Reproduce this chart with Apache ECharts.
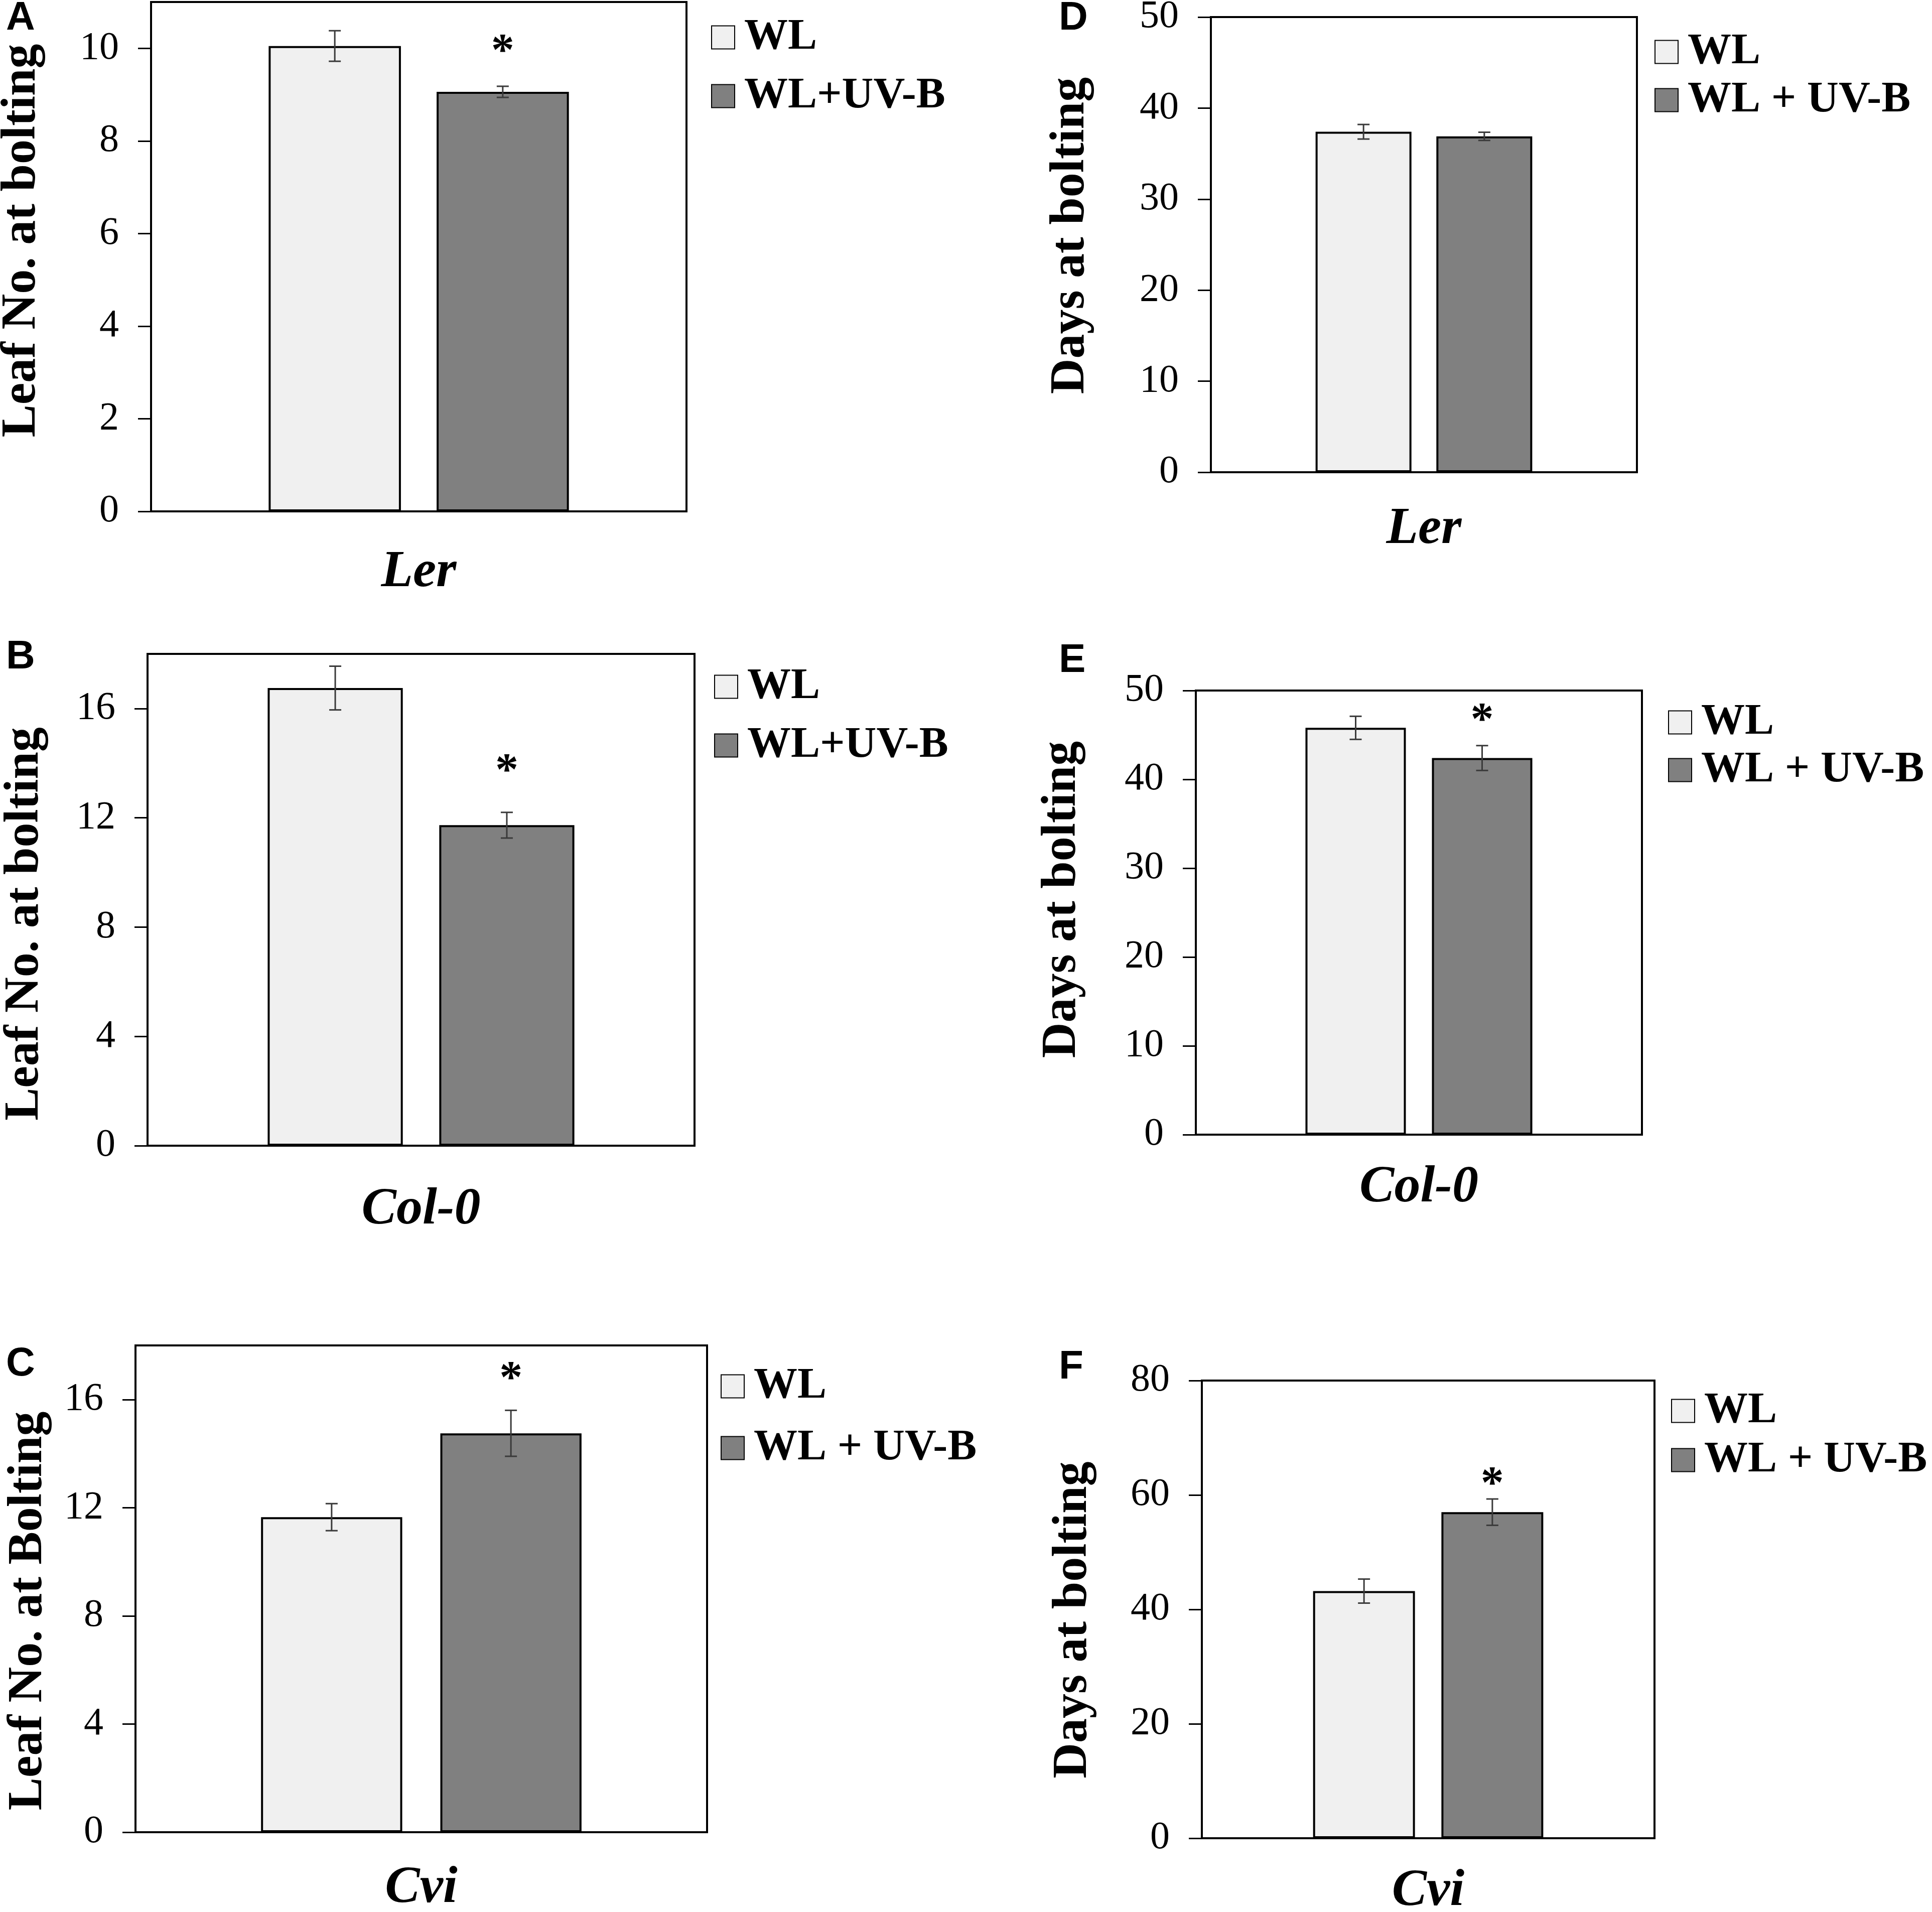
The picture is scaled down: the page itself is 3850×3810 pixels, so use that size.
<!DOCTYPE html>
<html>
<head>
<meta charset="utf-8">
<title>Leaf number and days at bolting</title>
<script src="https://cdn.jsdelivr.net/npm/echarts@6/dist/echarts.min.js"></script>
<style>
  html, body { margin: 0; padding: 0; background: #fff; }
  #chart { width: 3850px; height: 3810px; }
</style>
</head>
<body>
<div id="chart"></div>
<script>
// values, one entry per panel A..F
const panelLetters = ['A', 'B', 'C', 'D', 'E', 'F'];
const accessions = ['Ler', 'Col-0', 'Cvi', 'Ler', 'Col-0', 'Cvi'];
const yNames = ['Leaf No. at bolting', 'Leaf No. at bolting', 'Leaf No. at Bolting',
                'Days at bolting', 'Days at bolting', 'Days at bolting'];
const legendNames = [['WL', 'WL+UV-B'], ['WL', 'WL+UV-B'], ['WL', 'WL + UV-B'],
                     ['WL', 'WL + UV-B'], ['WL', 'WL + UV-B'], ['WL', 'WL + UV-B']];
const wlMean = [10.05, 16.75, 11.65, 37.4, 45.8, 43.2];
const wlErr  = [0.33, 0.8, 0.5, 0.8, 1.3, 2.1];
const uvMean = [9.06, 11.73, 14.75, 36.9, 42.4, 57.0];
const uvErr  = [0.12, 0.47, 0.85, 0.45, 1.4, 2.3];
// asterisk (significance) over the WL + UV-B bar, null = none
const starAt = [10.04, 13.9, 16.95, null, 47.2, 62.8];
const yMax = [11, 18, 18, 50, 50, 80];
const yTicks = [
  [0, 2, 4, 6, 8, 10],
  [0, 4, 8, 12, 16],
  [0, 4, 8, 12, 16],
  [0, 10, 20, 30, 40, 50],
  [0, 10, 20, 30, 40, 50],
  [0, 20, 40, 60, 80]
];

// layout (pixels)
const grids = [
  { left: 301, top: 4, width: 1067, height: 1015 },
  { left: 294, top: 1303, width: 1090, height: 980 },
  { left: 270, top: 2681, width: 1139, height: 970 },
  { left: 2413, top: 34, width: 849, height: 907 },
  { left: 2383, top: 1376, width: 889, height: 885 },
  { left: 2395, top: 2751, width: 902, height: 912 }
];
const nameGaps = [208, 195, 164, 230, 217, 207];
const nameShift = [-32, 48, 44, -18, -26, 21];   // + moves the y name down
const catMargin = [70, 76, 60, 62, 54, 54];
const legendPos = [
  { left: 1417, top: 31, gap: 30 },
  { left: 1423, top: 1325, gap: 30 },
  { left: 1436, top: 2719, gap: 36 },
  { left: 3297, top: 60, gap: 9 },
  { left: 3324, top: 1396, gap: 8 },
  { left: 3330, top: 2768, gap: 11 }
];
const letterPos = [[12, 37], [12, 1310], [12, 2719], [2110, 37], [2110, 1317], [2110, 2725]];

const SERIF = '"Liberation Serif", "Times New Roman", serif';
const WL_COLOR = '#f0f0f0';
const UV_COLOR = '#808080';

function barLayout(i) {
  return i < 3 ? { bw: 0.247, gap: 0.27 } : { bw: 0.225, gap: 0.26 };
}

function barCenter(api, i, which) {
  const lay = barLayout(i);
  const band = api.size([1, 0])[0];
  const w = band * lay.bw;
  const off = (w + w * lay.gap) / 2;
  return api.coord([0, 0])[0] + (which === 0 ? -off : off);
}

function errorRender(i) {
  return function (params, api) {
    const which = api.value(3);
    const mean = api.value(1);
    const err = api.value(2);
    const cx = barCenter(api, i, which);
    const yTop = api.coord([0, mean + err])[1];
    const yBot = api.coord([0, mean - err])[1];
    const cap = 12;
    const style = { stroke: '#3a3a3a', lineWidth: 3 };
    return {
      type: 'group',
      children: [
        { type: 'line', shape: { x1: cx, y1: yTop, x2: cx, y2: yBot }, style: style },
        { type: 'line', shape: { x1: cx - cap, y1: yTop, x2: cx + cap, y2: yTop }, style: style },
        { type: 'line', shape: { x1: cx - cap, y1: yBot, x2: cx + cap, y2: yBot }, style: style }
      ]
    };
  };
}

function starRender(i) {
  return function (params, api) {
    const cx = barCenter(api, i, 1);
    const cy = api.coord([0, api.value(1)])[1];
    return {
      type: 'text',
      x: cx,
      y: cy + 13,
      style: {
        text: '*', fill: '#000', fontFamily: SERIF, fontWeight: 'bold', fontSize: 92,
        align: 'center', verticalAlign: 'middle'
      }
    };
  };
}

const option = {
  animation: false,
  backgroundColor: '#fff',
  textStyle: { fontFamily: SERIF, color: '#000' },
  grid: [], xAxis: [], yAxis: [], legend: [], series: [],
  graphic: { elements: [] }
};

for (let i = 0; i < 6; i++) {
  const lay = barLayout(i);
  option.grid.push(Object.assign({
    show: true, borderColor: '#000', borderWidth: 4,
    containLabel: false, outerBoundsMode: 'none'
  }, grids[i]));

  option.xAxis.push({
    type: 'category', gridIndex: i, data: [accessions[i]],
    axisLine: { lineStyle: { color: '#000', width: 4 } },
    axisTick: { show: false },
    axisLabel: {
      color: '#000', fontFamily: SERIF, fontSize: 104, fontWeight: 'bold',
      fontStyle: 'italic', margin: catMargin[i]
    }
  });

  const sh = nameShift[i];
  option.yAxis.push({
    type: 'value', gridIndex: i, min: 0, max: yMax[i],
    interval: yTicks[i][1] - yTicks[i][0],
    name: yNames[i], nameLocation: 'middle', nameGap: nameGaps[i],
    nameTextStyle: {
      color: '#000', fontFamily: SERIF, fontSize: 98, fontWeight: 'bold',
      padding: sh < 0 ? [0, 0, 0, -2 * sh] : [0, 2 * sh, 0, 0]
    },
    axisLine: { show: true, lineStyle: { color: '#000', width: 4 } },
    axisTick: { show: true, inside: false, length: 26, lineStyle: { color: '#000', width: 3 },
                customValues: yTicks[i] },
    axisLabel: { color: '#000', fontFamily: SERIF, fontSize: 78, margin: 64,
                 customValues: yTicks[i] },
    splitLine: { show: false }
  });

  const common = {
    type: 'bar', xAxisIndex: i, yAxisIndex: i,
    barWidth: (lay.bw * 100) + '%', barGap: (lay.gap * 100) + '%',
    silent: true
  };
  option.series.push(Object.assign({}, common, {
    name: legendNames[i][0], data: [wlMean[i]],
    itemStyle: { color: WL_COLOR, borderColor: '#000', borderWidth: 4 }
  }));
  option.series.push(Object.assign({}, common, {
    name: legendNames[i][1], data: [uvMean[i]],
    itemStyle: { color: UV_COLOR, borderColor: '#000', borderWidth: 4 }
  }));

  option.series.push({
    type: 'custom', xAxisIndex: i, yAxisIndex: i, silent: true, z: 5,
    renderItem: errorRender(i),
    encode: { x: 0, y: 1 },
    data: [[0, wlMean[i], wlErr[i], 0], [0, uvMean[i], uvErr[i], 1]]
  });

  if (starAt[i] != null) {
    option.series.push({
      type: 'custom', xAxisIndex: i, yAxisIndex: i, silent: true, z: 6,
      renderItem: starRender(i),
      encode: { x: 0, y: 1 },
      data: [[0, starAt[i]]]
    });
  }

  option.legend.push({
    orient: 'vertical', left: legendPos[i].left, top: legendPos[i].top,
    itemGap: legendPos[i].gap, padding: 0,
    itemWidth: 46, itemHeight: 46, icon: 'rect',
    selectedMode: false,
    data: legendNames[i],
    textStyle: { color: '#000', fontFamily: SERIF, fontSize: 87, fontWeight: 'bold',
                 padding: [0, 0, 0, 14] }
  });

  option.graphic.elements.push({
    type: 'text', x: letterPos[i][0], y: letterPos[i][1],
    style: {
      text: panelLetters[i], fill: '#000',
      fontFamily: '"Liberation Sans", Arial, sans-serif', fontWeight: 'bold', fontSize: 80,
      align: 'left', verticalAlign: 'middle'
    }
  });
}

const chart = echarts.init(document.getElementById('chart'));
chart.setOption(option);
window.addEventListener('resize', () => chart.resize());
</script>
</body>
</html>
